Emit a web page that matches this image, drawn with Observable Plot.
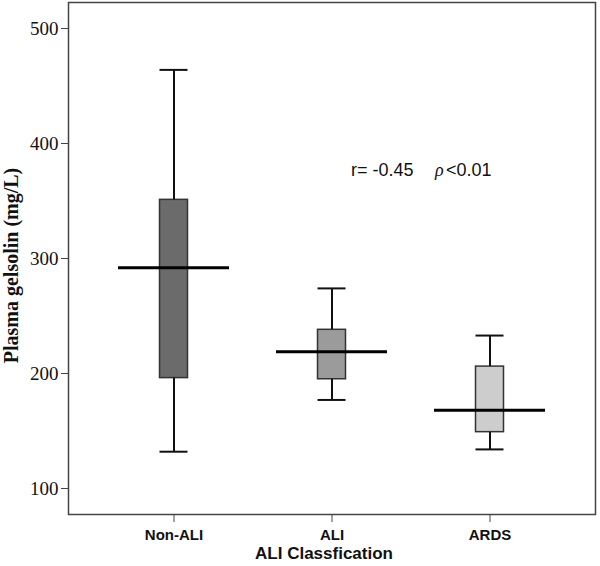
<!DOCTYPE html>
<html>
<head>
<meta charset="utf-8">
<script src="https://cdn.jsdelivr.net/npm/d3@7"></script>
<script src="https://cdn.jsdelivr.net/npm/@observablehq/plot@0.6"></script>
<style>
  body { margin: 0; background: #fff; }
  #chart svg { display: block; }
</style>
</head>
<body>
<div id="chart"></div>
<script>
const categories = ["Non-ALI", "ALI", "ARDS"];
const lowValues = [132, 177, 134];
const q1Values = [196, 195, 149];
const medianValues = [292, 219, 168];
const q3Values = [351, 238, 206];
const highValues = [464, 274, 233];
const boxFills = ["#6b6b6b", "#9b9b9b", "#cdcdcd"];
const yTicks = [100, 200, 300, 400, 500];
const yLabel = "Plasma gelsolin (mg/L)";
const xLabel = "ALI Classfication";
const annotation = {cat: "ALI", y: 377, r: "r= -0.45", rho: "\u03c1", p: "<0.01"};

const data = categories.map((c, i) => ({
  cat: c, low: lowValues[i], q1: q1Values[i], median: medianValues[i],
  q3: q3Values[i], high: highValues[i], fill: boxFills[i]
}));

const serif = "'Liberation Serif', 'Times New Roman', serif";
const sans = "'Liberation Sans', Arial, sans-serif";
const boxInset = 41.5;

const plot = Plot.plot({
  width: 600,
  height: 566,
  marginLeft: 68,
  marginRight: 5,
  marginTop: 2,
  marginBottom: 52,
  x: {type: "band", domain: categories, paddingInner: 0.3, paddingOuter: 0.31},
  y: {domain: [77.4, 522.6]},
  color: {type: "identity"},
  marks: [
    Plot.barY(data, {x: "cat", y1: "q1", y2: "q3", fill: "fill", stroke: "#333", strokeWidth: 1.5, insetLeft: boxInset, insetRight: boxInset}),
    Plot.ruleX(data, {x: "cat", y1: "q3", y2: "high", stroke: "#111", strokeWidth: 2}),
    Plot.ruleX(data, {x: "cat", y1: "low", y2: "q1", stroke: "#111", strokeWidth: 2}),
    Plot.tickY(data, {x: "cat", y: "high", stroke: "#111", strokeWidth: 2, insetLeft: boxInset, insetRight: boxInset}),
    Plot.tickY(data, {x: "cat", y: "low", stroke: "#111", strokeWidth: 2, insetLeft: boxInset, insetRight: boxInset}),
    Plot.tickY(data, {x: "cat", y: "median", stroke: "#000", strokeWidth: 3}),
    Plot.frame({stroke: "#444", strokeWidth: 1.5}),
    Plot.axisY({ticks: yTicks, tickSize: 7, tickPadding: 3, fontSize: 19, fontFamily: serif, fill: "#111", stroke: "#444", label: null}),
    Plot.axisX({tickSize: 8, tickPadding: 7, fontSize: 15, fontFamily: sans, fontWeight: "bold", fill: "#111", stroke: "#444", label: null}),
    Plot.text([yLabel], {text: d => d, frameAnchor: "left", textAnchor: "middle", dx: -57, dy: 7, rotate: -90, fontSize: 20, fontWeight: "bold", fontFamily: serif, fill: "#111"}),
    Plot.text([xLabel], {text: d => d, frameAnchor: "bottom", dy: 44, dx: -8, fontSize: 17, fontWeight: "bold", fontFamily: sans, fill: "#111", lineAnchor: "bottom"}),
    Plot.text([annotation], {x: "cat", y: "y", text: "r", dx: 19, textAnchor: "start", fontSize: 18, fontFamily: sans, fill: "#111"}),
    Plot.text([annotation], {x: "cat", y: "y", text: "rho", dx: 103, textAnchor: "start", fontSize: 18, fontFamily: serif, fontStyle: "italic", fill: "#111"}),
    Plot.text([annotation], {x: "cat", y: "y", text: "p", dx: 114, textAnchor: "start", fontSize: 18, fontFamily: sans, fill: "#111"})
  ]
});
document.getElementById("chart").appendChild(plot);
</script>
</body>
</html>
